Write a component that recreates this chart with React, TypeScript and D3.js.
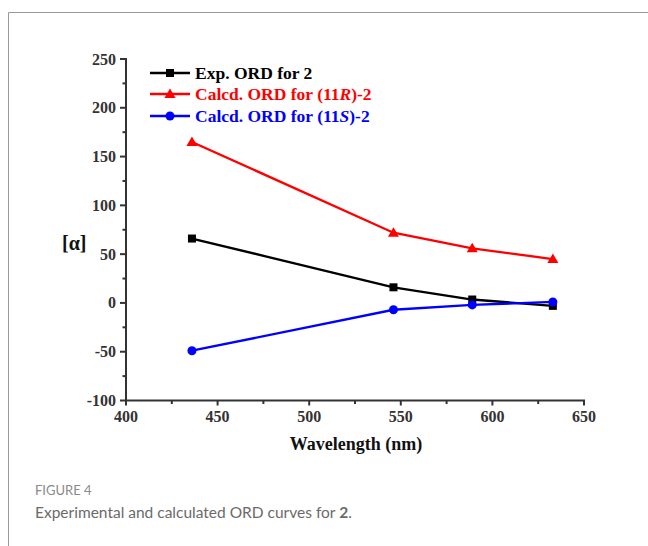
import React from "react";
import * as d3 from "d3";

const wavelengths = [436, 546, 589, 633];
const expORD = [66, 16, 3.5, -3];
const calcdR = [165, 72, 56, 45];
const calcdS = [-49, -7, -2, 1];
const yTicks = [-100, -50, 0, 50, 100, 150, 200, 250];
const xTicks = [400, 450, 500, 550, 600, 650];

const W = 648, H = 546;
const ml = 126, mr = 584, mt = 59, mb = 400.5;

export default function App() {
  const x = d3.scaleLinear().domain([400, 650]).range([ml, mr]);
  const y = d3.scaleLinear().domain([-100, 250]).range([mb, mt]);
  const line = d3.line<number>().x((_, i) => x(wavelengths[i])).y((d) => y(d));
  const axisColor = "#333";
  const serif = "'Liberation Serif', 'Times New Roman', serif";
  const sans = "Lato, 'Open Sans', sans-serif";
  const xMinor = d3.range(425, 650, 50);
  const yMinor = d3.range(-75, 250, 50);

  const square = (cx: number, cy: number, k: string) => (
    <rect key={k} x={cx - 4} y={cy - 4} width={8} height={8} fill="#000" />
  );
  const tri = (cx: number, cy: number, k: string) => (
    <path key={k} d={`M${cx},${cy - 5.5}L${cx + 5.5},${cy + 4}L${cx - 5.5},${cy + 4}Z`} fill="#ff0000" />
  );
  const circ = (cx: number, cy: number, k: string) => (
    <circle key={k} cx={cx} cy={cy} r={4.5} fill="#0000ff" />
  );

  const series = [
    { data: expORD, color: "#000", marker: square, label: [["Exp. ORD for 2", "normal"]] },
    { data: calcdR, color: "#ff0000", marker: tri, label: [["Calcd. ORD for (11", "normal"], ["R", "italic"], [")-2", "normal"]] },
    { data: calcdS, color: "#0000ff", marker: circ, label: [["Calcd. ORD for (11", "normal"], ["S", "italic"], [")-2", "normal"]] },
  ];
  const legendY = [73, 94, 116];

  return (
    <svg width={W} height={H} style={{ position: "absolute", left: 0, top: 0, background: "#fff" }}>
      <path d={`M8.5,${H}V12.5H${W}`} fill="none" stroke="#999" strokeWidth={1} />
      {series.map((s, si) => (
        <g key={si}>
          <path d={line(s.data) || ""} fill="none" stroke={s.color} strokeWidth={2.3} />
          {s.data.map((v, i) => s.marker(x(wavelengths[i]), y(v), `m${si}-${i}`))}
        </g>
      ))}
      {/* axes */}
      <line x1={ml} x2={ml} y1={mt - 1} y2={mb + 1} stroke={axisColor} strokeWidth={2} />
      <line x1={ml - 1} x2={mr + 1} y1={mb} y2={mb} stroke={axisColor} strokeWidth={2} />
      {yTicks.map((t) => (
        <g key={`y${t}`}>
          <line x1={ml - 6} x2={ml} y1={y(t)} y2={y(t)} stroke={axisColor} strokeWidth={2} />
          <text x={ml - 10} y={y(t) + 5.5} textAnchor="end" fontFamily={serif} fontWeight="bold" fontSize={16} fill="#333">
            {t}
          </text>
        </g>
      ))}
      {yMinor.map((t) => (
        <line key={`ym${t}`} x1={ml - 3.5} x2={ml} y1={y(t)} y2={y(t)} stroke={axisColor} strokeWidth={2} />
      ))}
      {xTicks.map((t) => (
        <g key={`x${t}`}>
          <line x1={x(t)} x2={x(t)} y1={mb} y2={mb + 5} stroke={axisColor} strokeWidth={2} />
          <text x={x(t)} y={mb + 21} textAnchor="middle" fontFamily={serif} fontWeight="bold" fontSize={16} fill="#333">
            {t}
          </text>
        </g>
      ))}
      {xMinor.map((t) => (
        <line key={`xm${t}`} x1={x(t)} x2={x(t)} y1={mb} y2={mb + 3.5} stroke={axisColor} strokeWidth={2} />
      ))}
      <text x={356} y={450} textAnchor="middle" fontFamily={serif} fontWeight="bold" fontSize={18} fill="#111">
        Wavelength (nm)
      </text>
      <text x={62} y={250} fontFamily={serif} fontWeight="bold" fontSize={20} fill="#111">
        [α]
      </text>
      {/* legend */}
      {series.map((s, si) => (
        <g key={`lg${si}`}>
          <line x1={150} x2={190} y1={legendY[si]} y2={legendY[si]} stroke={s.color} strokeWidth={2.3} />
          {s.marker(170, legendY[si], `lm${si}`)}
          <text x={195} y={legendY[si] + 5.5} fontFamily={serif} fontWeight="bold" fontSize={17.5} fill={s.color}>
            {s.label.map((p, pi) => (
              <tspan key={pi} fontStyle={p[1]}>{p[0]}</tspan>
            ))}
          </text>
        </g>
      ))}
      {/* caption */}
      <text x={35} y={495} fontFamily={sans} fontSize={13} fill="#8a8a8a">FIGURE 4</text>
      <text x={35} y={518} fontFamily={sans} fontSize={15.5} fill="#6a6a6a">
        Experimental and calculated ORD curves for <tspan fontWeight="bold">2</tspan>.
      </text>
    </svg>
  );
}
